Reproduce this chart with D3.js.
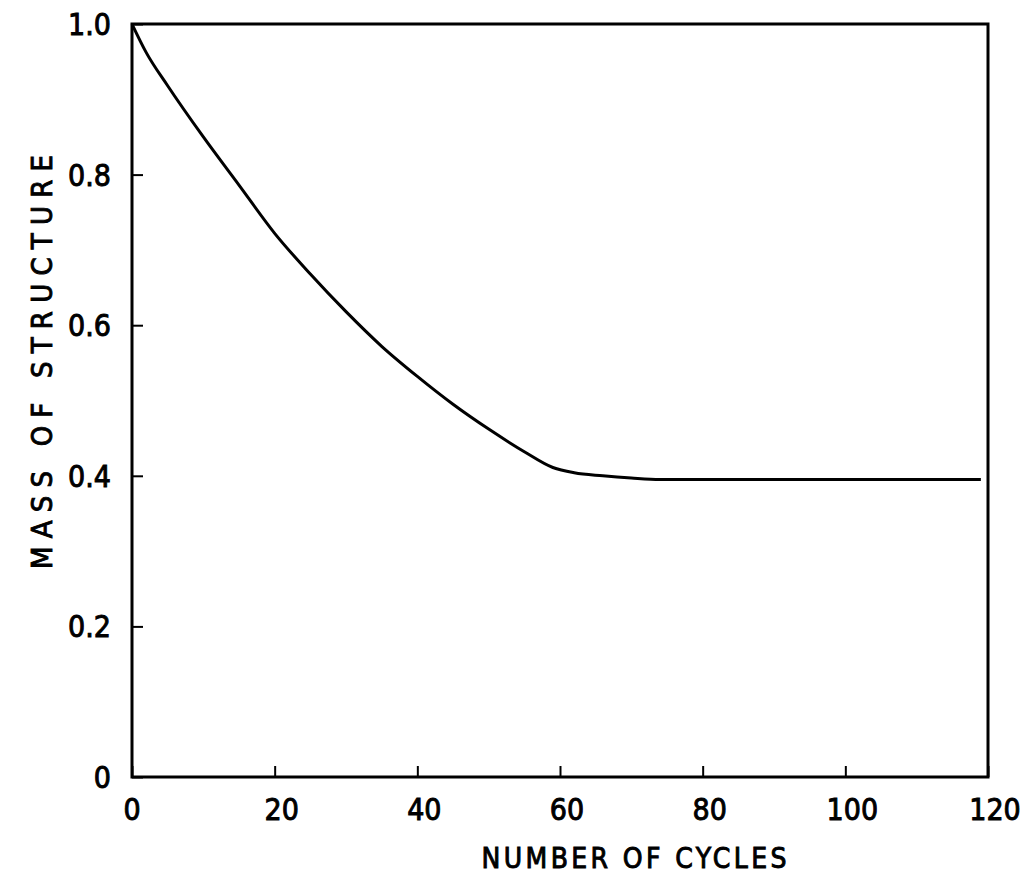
<!DOCTYPE html>
<html>
<head>
<meta charset="utf-8">
<script src="https://cdn.jsdelivr.net/npm/d3@7"></script>
<style>
  html,body{margin:0;padding:0;background:#fff;}
  #chart text{font-family:"DejaVu Sans Condensed","DejaVu Sans",sans-serif;fill:#000;stroke:#000;stroke-width:0.9px;}
</style>
</head>
<body>
<div id="chart"></div>
<script>
// mass of structure vs number of cycles
const cycles=[0,2,5,10,15,20,25,30,35,40,45,50,55,59,62,66,70,74,119];
const mass=[1.0,0.962,0.918,0.85,0.786,0.722,0.668,0.618,0.572,0.532,0.495,0.462,0.432,0.411,0.404,0.400,0.397,0.395,0.395];
const xTicks=[0,20,40,60,80,100,120];
const yTicks=[0,0.2,0.4,0.6,0.8,1.0];
const xTitle="NUMBER OF CYCLES", yTitle="MASS OF STRUCTURE";

(function(){
  const W=1021,H=884;
  const m={top:24,right:33,bottom:107,left:132};
  const svg=d3.select("#chart").append("svg").attr("width",W).attr("height",H);
  const x=d3.scaleLinear().domain([0,120]).range([m.left,W-m.right]);
  const y=d3.scaleLinear().domain([0,1]).range([H-m.bottom,m.top]);
  const pts=cycles.map((c,i)=>({c,v:mass[i]}));

  // inward ticks
  svg.append("g").attr("transform",`translate(0,${y(0)})`)
    .call(d3.axisBottom(x).tickValues(xTicks).tickSize(-11).tickFormat(""))
    .call(s=>s.select(".domain").remove())
    .call(s=>s.selectAll("line").attr("stroke","#000").attr("stroke-width",2));
  svg.append("g").attr("transform",`translate(${x(0)},0)`)
    .call(d3.axisLeft(y).tickValues(yTicks).tickSize(-11).tickFormat(""))
    .call(s=>s.select(".domain").remove())
    .call(s=>s.selectAll("line").attr("stroke","#000").attr("stroke-width",2));

  // frame
  svg.append("rect").attr("x",x(0)).attr("y",y(1)).attr("width",x(120)-x(0)).attr("height",y(0)-y(1))
    .attr("fill","none").attr("stroke","#000").attr("stroke-width",3);

  // tick labels
  svg.selectAll(".xl").data(xTicks).join("text")
    .attr("x",d=>x(d)+(d===0?0:7)).attr("y",820).attr("text-anchor","middle")
    .attr("font-size",30).text(d=>d);
  svg.selectAll(".yl").data(yTicks).join("text")
    .attr("x",111).attr("y",d=>y(d)+11).attr("text-anchor","end")
    .attr("font-size",30).text(d=>d===0?"0":d.toFixed(1));

  // axis titles
  svg.append("text").attr("x",634).attr("y",868).attr("text-anchor","middle")
    .attr("font-size",28).attr("textLength",305).attr("lengthAdjust","spacing").text(xTitle);
  svg.append("text").attr("transform","translate(52,362) rotate(-90)").attr("text-anchor","middle")
    .attr("font-size",29).attr("textLength",414).attr("lengthAdjust","spacing").text(yTitle);

  // curve
  svg.append("path").datum(pts)
    .attr("fill","none").attr("stroke","#000").attr("stroke-width",3).attr("stroke-linejoin","round")
    .attr("d",d3.line().x(d=>x(d.c)).y(d=>y(d.v)).curve(d3.curveMonotoneX));
})();
</script>
</body>
</html>
